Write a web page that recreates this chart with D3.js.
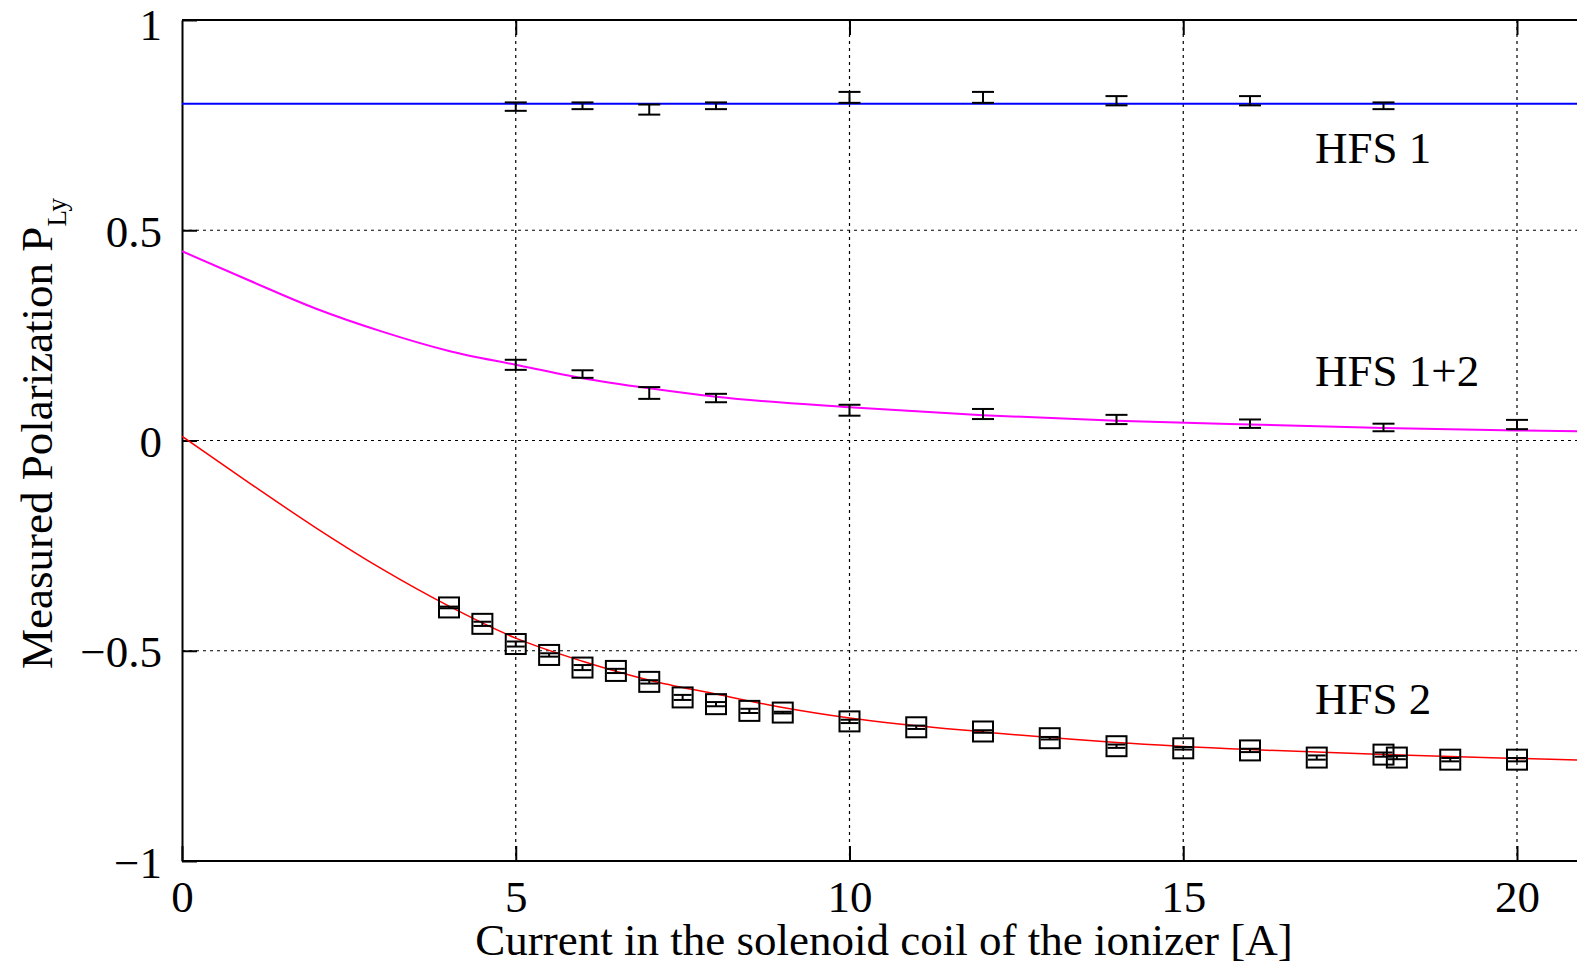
<!DOCTYPE html>
<html>
<head>
<meta charset="utf-8">
<script src="https://cdn.jsdelivr.net/npm/d3@7"></script>
<style>
  body { margin: 0; background: #fff; }
  svg { display: block; }
  text { font-family: "Liberation Serif", "Times New Roman", serif; fill: #000; }
</style>
</head>
<body>
<svg id="chart" width="1577" height="966"></svg>
<script>
// ---- data ----
const xTicks = [0, 5, 10, 15, 20];
const yTicks = [-1, -0.5, 0, 0.5, 1];
const yTickLabels = ["\u22121", "\u22120.5", "0", "0.5", "1"];
const gridX = [5, 10, 15, 20];
const gridY = [-0.5, 0, 0.5];

// HFS 1 measurements (error bars) and its flat fit
const hfs1X = [5, 6, 7, 8, 10, 12, 14, 16, 18];
const hfs1Y = [0.794, 0.796, 0.787, 0.796, 0.816, 0.816, 0.808, 0.808, 0.796];
const hfs1Err = [0.010, 0.008, 0.012, 0.008, 0.013, 0.013, 0.011, 0.011, 0.008];
const hfs1FitX = [0, 21];
const hfs1FitY = [0.801, 0.801];

// HFS 1+2 measurements and fitted curve
const hfs12X = [5, 6, 7, 8, 10, 12, 14, 16, 18, 20];
const hfs12Y = [0.180, 0.158, 0.113, 0.101, 0.072, 0.063, 0.050, 0.040, 0.031, 0.038];
const hfs12Err = [0.012, 0.009, 0.014, 0.010, 0.013, 0.012, 0.011, 0.010, 0.009, 0.011];
const hfs12FitX = [0, 1, 2, 3, 4, 5, 6, 7, 8, 10, 12, 14, 16, 18, 20, 21];
const hfs12FitY = [0.450, 0.381, 0.314, 0.259, 0.213, 0.180, 0.148, 0.124, 0.104, 0.079, 0.060, 0.047, 0.038, 0.030, 0.024, 0.022];

// HFS 2 measurements (squares) and fitted curve
const hfs2X = [4, 4.5, 5, 5.5, 6, 6.5, 7, 7.5, 8, 8.5, 9, 10, 11, 12, 13, 14, 15, 16, 17, 18, 18.2, 19, 20];
const hfs2Y = [-0.397, -0.436, -0.484, -0.510, -0.540, -0.548, -0.574, -0.611, -0.627, -0.643, -0.647,
               -0.668, -0.682, -0.692, -0.708, -0.727, -0.732, -0.737, -0.754, -0.747, -0.754, -0.759, -0.759];
const hfs2Err = [0.002, 0.005, 0.006, 0.004, 0.006, 0.005, 0.004, 0.006, 0.005, 0.005, 0.002,
                 0.004, 0.004, 0.003, 0.003, 0.004, 0.003, 0.004, 0.005, 0.005, 0.004, 0.004, 0.004];
const hfs2FitX = [0, 1, 2, 3, 4, 5, 6, 7, 8, 9, 10, 12, 14, 16, 18, 20, 21];
const hfs2FitY = [0.010, -0.100, -0.207, -0.306, -0.394, -0.470, -0.525, -0.570, -0.603, -0.635, -0.660,
                  -0.693, -0.718, -0.735, -0.747, -0.756, -0.760];

const curveLabels = ["HFS 1", "HFS 1+2", "HFS 2"];
const curveLabelY = [0.66, 0.13, -0.65];

// ---- layout ----
const svg = d3.select("#chart");
const plotLeft = 182, plotTop = 20, plotBottom = 861, plotRight = 1577;
const x = d3.scaleLinear().domain([0, 20]).range([plotLeft, 1517]);
const y = d3.scaleLinear().domain([-1, 1]).range([plotBottom, plotTop]);
const font = 45;

svg.append("defs").append("clipPath").attr("id", "plot")
  .append("rect").attr("x", plotLeft).attr("y", plotTop)
  .attr("width", plotRight - plotLeft).attr("height", plotBottom - plotTop);

// grid
const grid = svg.append("g").attr("stroke", "#000").attr("stroke-width", 1.2).attr("stroke-dasharray", "3,4");
grid.selectAll(".gx").data(gridX).enter().append("line")
  .attr("x1", d => x(d)).attr("x2", d => x(d)).attr("y1", plotTop).attr("y2", plotBottom);
grid.selectAll(".gy").data(gridY).enter().append("line")
  .attr("x1", plotLeft).attr("x2", plotRight).attr("y1", d => y(d)).attr("y2", d => y(d));

// axes (ticks inward)
const yAxis = svg.append("g").attr("transform", `translate(${plotLeft},0)`)
  .call(d3.axisLeft(y).tickValues(yTicks).tickSizeInner(-15).tickSizeOuter(0).tickPadding(20)
    .tickFormat((d, i) => yTickLabels[i]));
const xAxis = svg.append("g").attr("transform", `translate(0,${plotBottom})`)
  .call(d3.axisBottom(x).tickValues(xTicks).tickSizeInner(-15).tickSizeOuter(0).tickPadding(20)
    .tickFormat(d3.format("d")));
const xTop = svg.append("g").attr("transform", `translate(0,${plotTop})`)
  .call(d3.axisTop(x).tickValues(xTicks.slice(1)).tickSizeInner(-15).tickSizeOuter(0).tickFormat(""));
xTop.select(".domain").remove();
svg.append("line").attr("x1", plotLeft).attr("x2", plotRight).attr("y1", plotTop).attr("y2", plotTop)
  .attr("stroke", "#000").attr("stroke-width", 2);

[yAxis, xAxis, xTop].forEach(a => {
  a.selectAll("path, line").attr("stroke", "#000").attr("stroke-width", 2);
  a.selectAll("text").attr("font-size", font).attr("font-family", "Liberation Serif, serif");
});
yAxis.selectAll("text").attr("dy", d => d === 1 ? "0.44em" : "0.36em");
xAxis.selectAll("text").attr("dy", "0.68em");
xAxis.select(".domain").attr("d", `M${plotLeft},0H${plotRight}`);

// fitted curves
const plot = svg.append("g").attr("clip-path", "url(#plot)");
const line = d3.line().x(d => x(d[0])).y(d => y(d[1])).curve(d3.curveMonotoneX);
plot.append("path").datum(d3.zip(hfs1FitX, hfs1FitY)).attr("d", line)
  .attr("fill", "none").attr("stroke", "#0000ff").attr("stroke-width", 2);
plot.append("path").datum(d3.zip(hfs12FitX, hfs12FitY)).attr("d", line)
  .attr("fill", "none").attr("stroke", "#ff00ff").attr("stroke-width", 2);
plot.append("path").datum(d3.zip(hfs2FitX, hfs2FitY)).attr("d", line)
  .attr("fill", "none").attr("stroke", "#ff0000").attr("stroke-width", 1.5);

// error bars
function errorBars(xs, ys, es, cap) {
  const g = plot.append("g").attr("stroke", "#000").attr("stroke-width", 2);
  const rows = d3.zip(xs, ys, es);
  g.selectAll(".v").data(rows).enter().append("line")
    .attr("x1", d => x(d[0])).attr("x2", d => x(d[0]))
    .attr("y1", d => y(d[1] - d[2])).attr("y2", d => y(d[1] + d[2]));
  [-1, 1].forEach(s => {
    g.selectAll(".c" + s).data(rows).enter().append("line")
      .attr("x1", d => x(d[0]) - cap).attr("x2", d => x(d[0]) + cap)
      .attr("y1", d => y(d[1] + s * d[2])).attr("y2", d => y(d[1] + s * d[2]));
  });
}
errorBars(hfs1X, hfs1Y, hfs1Err, 11);
errorBars(hfs12X, hfs12Y, hfs12Err, 11);
errorBars(hfs2X, hfs2Y, hfs2Err, 9);

// squares for HFS 2
plot.append("g").selectAll("rect").data(d3.zip(hfs2X, hfs2Y)).enter().append("rect")
  .attr("x", d => x(d[0]) - 10).attr("y", d => y(d[1]) - 10)
  .attr("width", 20).attr("height", 20)
  .attr("fill", "none").attr("stroke", "#000").attr("stroke-width", 2);

// curve labels
svg.selectAll(".lbl").data(curveLabels).enter().append("text")
  .attr("x", 1315).attr("y", (d, i) => y(curveLabelY[i]))
  .attr("font-size", font).text(d => d);

// axis titles
svg.append("text").attr("x", 884).attr("y", 955).attr("text-anchor", "middle")
  .attr("font-size", font).text("Current in the solenoid coil of the ionizer [A]");
const yt = svg.append("text").attr("transform", "translate(52,669) rotate(-90)")
  .attr("font-size", font);
yt.append("tspan").text("Measured Polarization P");
yt.append("tspan").attr("font-size", 27).attr("dy", 14).text("Ly");
</script>
</body>
</html>
